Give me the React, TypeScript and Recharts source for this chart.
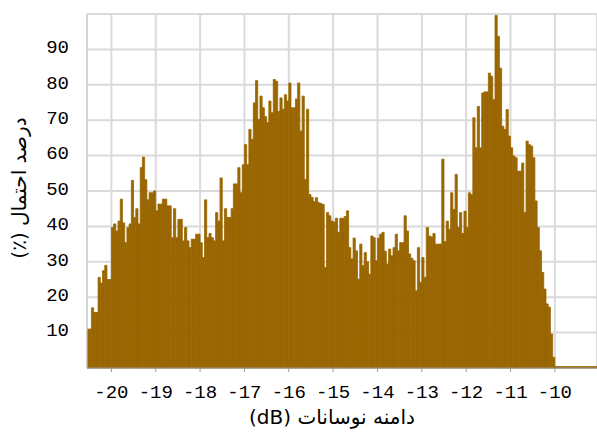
import { Bar, BarChart, CartesianGrid, XAxis, YAxis } from "recharts";

// histogram bins, 0.05 dB wide, starting at -20.55 dB
const binStart = -20.55;
const binWidth = 0.05;

const probability = [
  11, 11, 17, 15.7, 15.7, 25.6, 24, 27.5, 29, 25, 25,
  39.7, 40.7, 38.7, 41.5, 47.7, 41, 35.4, 39.7, 40.7, 53,
  42.5, 45, 40.7, 56.6, 59.6, 53.2, 47.5, 49.5, 49.5, 50,
  44.4, 46.3, 46.3, 47.7, 47.7, 45.8, 45.8, 36.8, 45, 36.8,
  42, 42, 35.9, 39.7, 35.9, 34, 36.4, 36.4, 37.8, 37.8,
  35.4, 31.2, 47.5, 36.8, 38, 36.8, 35.9, 43.9, 41.5, 53.7,
  35.9, 45, 42.5, 42.5, 45, 52, 52, 56.6, 49.5, 57.4,
  63.1, 57.4, 67.4, 64.6, 74.9, 81.2, 70.2, 76.8, 73.5, 71,
  69.3, 75.4, 72.1, 81.5, 81, 72.5, 76.3, 73.1, 77.2, 75.4,
  80.5, 73.5, 73.5, 76, 80.5, 66.9, 76.8, 53.3, 73.1, 49,
  48.2, 47, 48.1, 46.7, 46.5, 46.2, 28.4, 43.9, 43, 41.5,
  41.2, 42.3, 38.3, 42.3, 42.3, 42.8, 44.4, 34, 30.8, 36.7,
  33.1, 25.1, 35, 28.9, 32.6, 30, 26.5, 37.3, 36.8, 30.3,
  36.7, 37.8, 38.3, 33, 29.4, 33.6, 31.7, 34, 37.8, 33.1,
  35.4, 35.4, 43, 38.7, 32.2, 31, 30.3, 21.8, 34, 24.2,
  31.2, 25.6, 39.7, 37.3, 37, 38, 35, 35, 35, 59,
  35.7, 41.5, 39.2, 49.5, 44.8, 54.7, 39.7, 43.9, 38, 44.3,
  39.7, 49.5, 49, 70.7, 62.2, 73.9, 62.2, 77.7, 78, 78,
  83.3, 82.4, 75.8, 99.6, 93.7, 84.7, 68.3, 67.4, 73, 65.5,
  62.2, 59.9, 59.4, 55.6, 55.6, 57.9, 43.9, 64.1, 63.1, 62.7,
  59.4, 47.2, 39.7, 33.1, 27, 22.3, 18.1, 17.2, 9.6, 3,
  // flat tail from -10 dB
  0.4, 0.4, 0.4, 0.4, 0.4, 0.4, 0.4, 0.4, 0.4, 0.4,
  0.4, 0.4, 0.4, 0.4, 0.4, 0.4, 0.4, 0.4, 0.4,
];

const xTicks = [-20, -19, -18, -17, -16, -15, -14, -13, -12, -11, -10];
const yTicks = [0, 10, 20, 30, 40, 50, 60, 70, 80, 90, 100];

const xTitle = "دامنه نوسانات (dB)";
const yTitle = "درصد احتمال (٪)";

const rows = probability.map((p, i) => ({
  db: Math.round((binStart + binWidth * (i + 0.5)) * 1000) / 1000,
  p,
}));

const tickFont = { fontFamily: "Liberation Mono", fontSize: 19, fill: "#000" };

export default function App() {
  return (
    <div style={{ position: "absolute", left: 0, top: 0, width: 597, height: 433, background: "#fff" }}>
      <BarChart
        width={597}
        height={433}
        data={rows}
        margin={{ top: 14, right: 0, bottom: 0, left: 0 }}
        barCategoryGap={0}
        barGap={0}
      >
        <CartesianGrid stroke="#dadada" strokeWidth={2} />
        <XAxis
          type="number"
          dataKey="db"
          domain={[-20.55, -9.05]}
          ticks={xTicks}
          allowDataOverflow
          height={65}
          tickSize={4}
          tickMargin={13}
          stroke="#999"
          tick={tickFont}
        />
        <YAxis
          type="number"
          domain={[0, 100]}
          ticks={yTicks}
          width={87}
          tickSize={0}
          tickMargin={18}
          stroke="#d0d0d0"
          tick={{ ...tickFont, dy: -3 }}
          tickFormatter={(v: number) => (v === 0 || v === 100 ? "" : String(v))}
        />
        <Bar
          dataKey="p"
          fill="#996600"
          stroke="#996600"
          strokeWidth={0.8}
          barSize={2.2}
          isAnimationActive={false}
        />
      </BarChart>
      <div
        dir="rtl"
        style={{
          position: "absolute",
          left: 332,
          top: 417,
          transform: "translate(-50%, -50%)",
          whiteSpace: "nowrap",
          fontFamily: "DejaVu Sans",
          fontSize: 20,
          color: "#000",
        }}
      >
        {xTitle}
      </div>
      <div
        dir="rtl"
        style={{
          position: "absolute",
          left: 19,
          top: 188,
          transform: "translate(-50%, -50%) rotate(-90deg)",
          whiteSpace: "nowrap",
          fontFamily: "DejaVu Sans",
          fontSize: 20,
          color: "#000",
        }}
      >
        {yTitle}
      </div>
    </div>
  );
}
